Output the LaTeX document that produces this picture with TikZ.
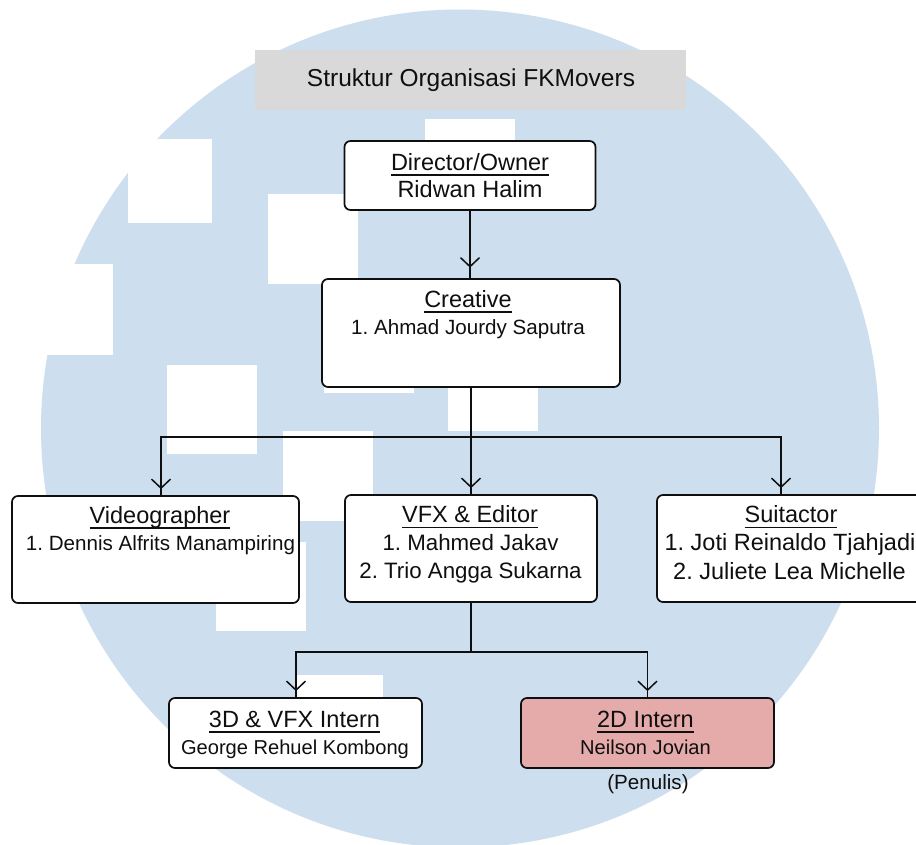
\documentclass[tikz,border=0pt]{standalone}
\usepackage{fontspec}
\setmainfont{Liberation Sans}
\usetikzlibrary{arrows.meta,decorations.markings}
\AtBeginDocument{\frenchspacing}
\definecolor{logoblue}{RGB}{205,223,238}
\definecolor{titlegray}{RGB}{217,217,217}
\definecolor{internpink}{RGB}{229,170,170}
\definecolor{inkc}{RGB}{15,15,15}
\newcommand{\udl}[1]{{\setbox0=\hbox{#1}\rlap{\rule[-5.6pt]{\wd0}{1.5pt}}\box0}}
\newcommand{\fsT}{\fontsize{24.5}{29}\selectfont}
\newcommand{\fsH}{\fontsize{23.5}{28}\selectfont}
\newcommand{\fsM}{\fontsize{22.3}{27}\selectfont}
\newcommand{\fsS}{\fontsize{20.6}{25}\selectfont}
\newcommand{\fsX}{\fontsize{20.1}{24}\selectfont}
\begin{document}
\begin{tikzpicture}[x=1pt,y=-1pt,
  box/.style={draw=inkc, line width=1.7pt, rounded corners=6pt, fill=white, inner sep=0pt},
  txt/.style={anchor=base, inner sep=0pt, text=inkc},
  conn/.style={draw=inkc, line width=1.5pt, postaction={decorate},
    decoration={markings, mark=at position -6pt with {\arrow{Straight Barb[length=9pt,width=19pt]}}}},
  connlong/.style={draw=inkc, line width=1.5pt, postaction={decorate},
    decoration={markings, mark=at position -10.5pt with {\arrow{Straight Barb[length=9pt,width=19pt]}}}}]
\useasboundingbox (0,0) rectangle (916,844);
\clip (0,0) rectangle (916,844);
\fill[white] (0,0) rectangle (916,844);
% watermark logo
\fill[logoblue] (460,428.5) circle [radius=419pt];
\fill[white] (128,139) rectangle (212,223);
\fill[white] (268,194) rectangle (358,284);
\fill[white] (425,119) rectangle (515,209);
\fill[white] (23,264) rectangle (113,355);
\fill[white] (167,365) rectangle (257,454);
\fill[white] (324,303) rectangle (414,393);
\fill[white] (448,341) rectangle (538,431);
\fill[white] (283,431) rectangle (373,521);
\fill[white] (216,542) rectangle (306,631);
\fill[white] (295,675) rectangle (383,765);
% title
\node[fill=titlegray, inner sep=0pt, minimum width=431pt, minimum height=60pt] (tbox) at (470.5,80) {};
\node[txt, font=\fsT] (ttl) at (471,86) {Struktur Organisasi FKMovers};
% boxes
\node[box, minimum width=251pt, minimum height=69pt] (dir) at (470,175.5) {};
\node[box, minimum width=298pt, minimum height=108pt] (cre) at (471,333) {};
\node[box, minimum width=287pt, minimum height=107pt] (vid) at (155.5,549.5) {};
\node[box, minimum width=252pt, minimum height=107pt] (vfx) at (471,548.5) {};
\node[box, minimum width=268pt, minimum height=107pt] (sui) at (791,548.5) {};
\node[box, minimum width=253pt, minimum height=70pt] (d3) at (295.5,733) {};
\node[box, fill=internpink, minimum width=253pt, minimum height=70pt] (d2) at (647.5,733) {};
% texts
\node[txt, font=\fsH] (dirh) at (470,170) {\udl{Director/Owner}};
\node[txt, font=\fsH] (dirn) at (470,197) {Ridwan Halim};
\node[txt, font=\fsH] (creh) at (468,307) {\udl{Creative}};
\node[txt, font=\fsS] (cren) at (468,334) {1. Ahmad Jourdy Saputra};
\node[txt, font=\fsH] (vidh) at (160,523) {\udl{Videographer}};
\node[txt, font=\fsS] (vidn) at (160.5,550) {1. Dennis Alfrits Manampiring};
\node[txt, font=\fsH] (vfxh) at (470,522.5) {\udl{VFX \& Editor}};
\node[txt, font=\fsM] (vfxa) at (470.5,550) {1. Mahmed Jakav};
\node[txt, font=\fsM] (vfxb) at (470.5,578) {2. Trio Angga Sukarna};
\node[txt, font=\fsH] (suih) at (791,522.5) {\udl{Suitactor}};
\node[txt, font=\fsH] (suia) at (790,550) {1. Joti Reinaldo Tjahjadi};
\node[txt, font=\fsH] (suib) at (789.5,579) {2. Juliete Lea Michelle};
\node[txt, font=\fsH] (d3h) at (294.5,727) {\udl{3D \& VFX Intern}};
\node[txt, font=\fsX] (d3n) at (295,754) {George Rehuel Kombong};
\node[txt, font=\fsH] (d2h) at (645.5,727) {\udl{2D Intern}};
\node[txt, font=\fsX] (d2n) at (645.5,754) {Neilson Jovian};
\node[txt, font=\fsS] (pen) at (648,789) {(Penulis)};
% connectors
\coordinate (kv) at (161,437);
\coordinate (ks) at (781,437);
\coordinate (k3) at (296,652);
\coordinate (k2) at (647.5,652);
\draw[connlong] (dir.south) -- (dir.south |- cre.north);
\draw[conn] (cre.south) -- (cre.south |- kv) -- (kv) -- (kv |- vid.north);
\draw[conn] (cre.south) -- (cre.south |- vfx.north);
\draw[conn] (cre.south) -- (cre.south |- ks) -- (ks) -- (ks |- sui.north);
\draw[conn] (vfx.south) -- (vfx.south |- k3) -- (k3) -- (k3 |- d3.north);
\draw[conn] (vfx.south) -- (vfx.south |- k2) -- (k2) -- (k2 |- d2.north);
\end{tikzpicture}
\end{document}
